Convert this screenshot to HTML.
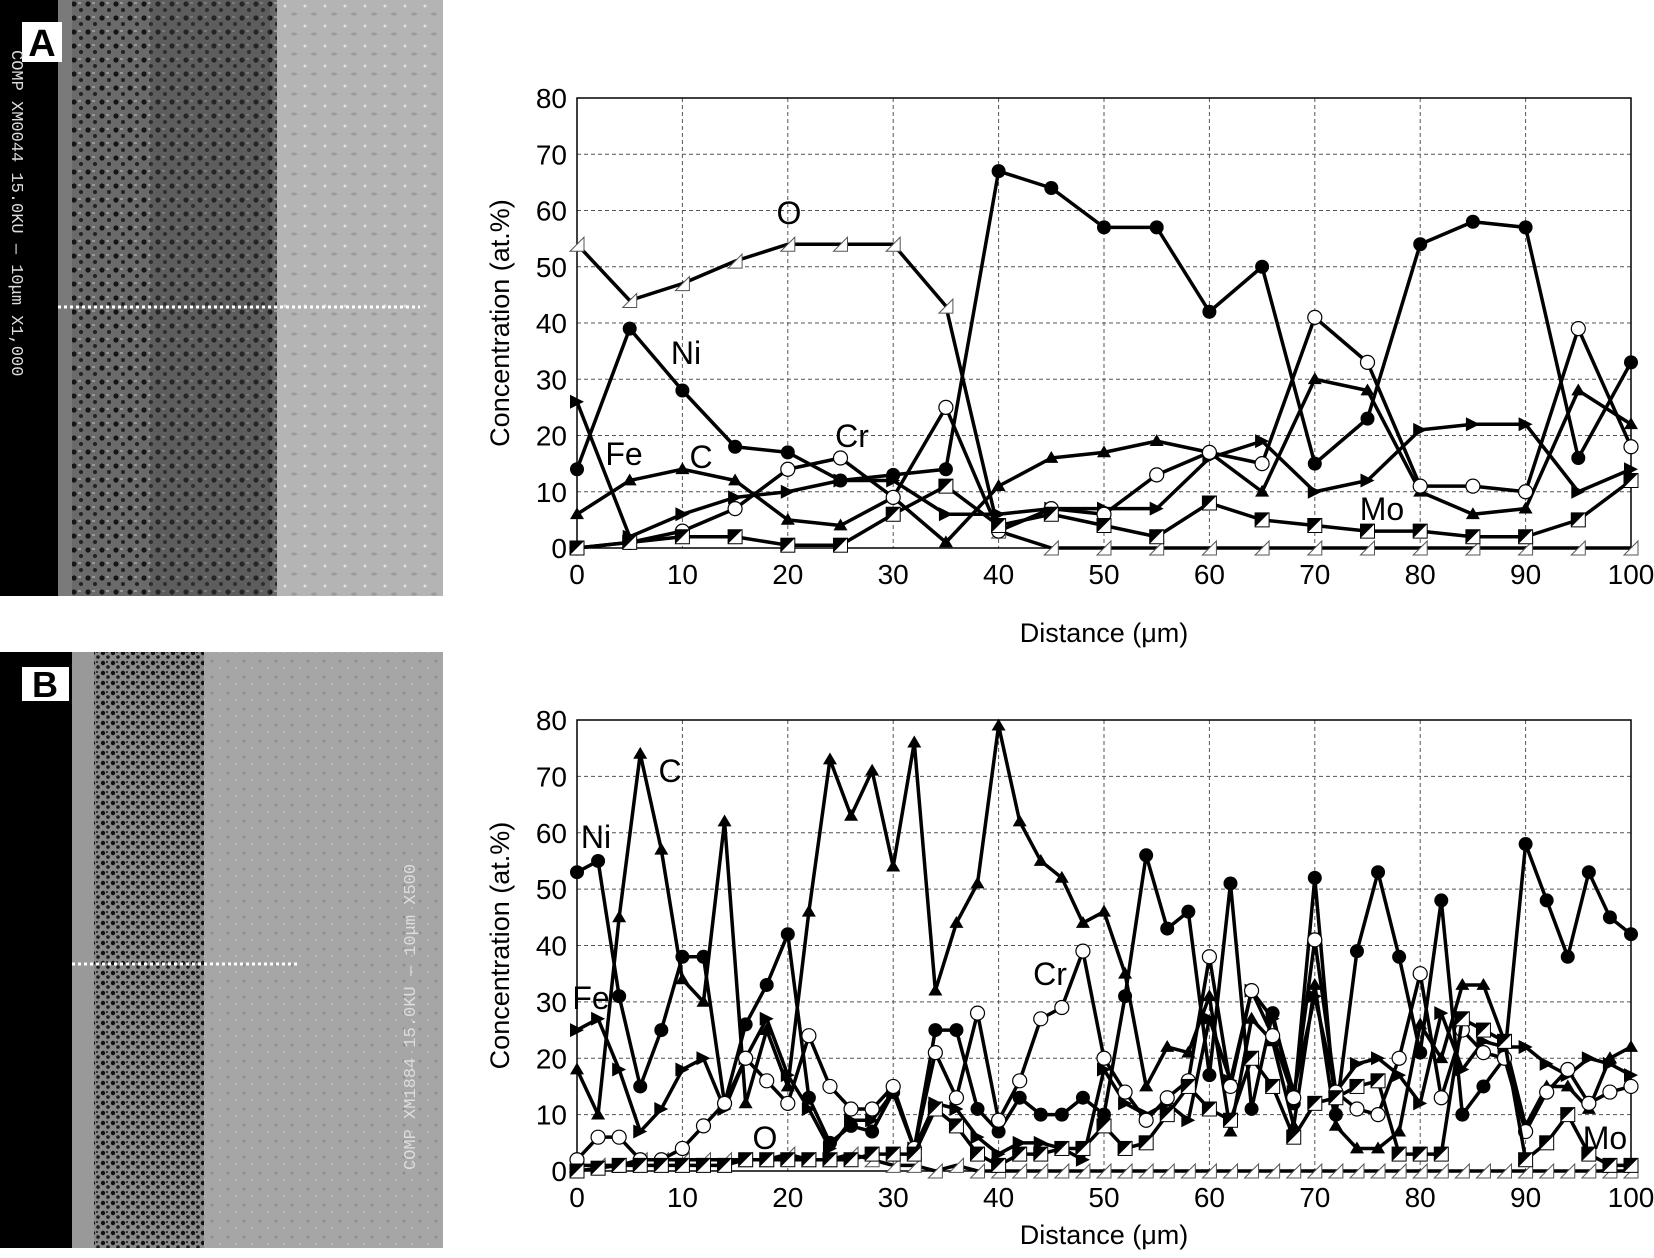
<!DOCTYPE html>
<html><head><meta charset="utf-8">
<style>
html,body{margin:0;padding:0;background:#fff;}
svg{display:block;font-family:"Liberation Sans",Arial,sans-serif;}
</style></head>
<body>
<svg id="s" width="1654" height="1258" viewBox="0 0 1654 1258" xmlns="http://www.w3.org/2000/svg">
<defs>
<pattern id="pA" width="14" height="14" patternUnits="userSpaceOnUse">
<rect width="14" height="14" fill="#6a6a6a"/><circle cx="4" cy="4" r="2.6" fill="#151515"/><circle cx="11" cy="10" r="2" fill="#222"/><rect x="8" y="2" width="3" height="2" fill="#999"/>
</pattern>
<pattern id="pB" width="10" height="10" patternUnits="userSpaceOnUse">
<rect width="10" height="10" fill="#8a8a8a"/><circle cx="3" cy="3" r="2.2" fill="#111"/><circle cx="8" cy="7" r="1.8" fill="#1a1a1a"/><rect x="6" y="1" width="2" height="2" fill="#333"/>
</pattern>
<pattern id="pL" width="20" height="20" patternUnits="userSpaceOnUse">
<rect width="20" height="20" fill="#b4b4b4"/><circle cx="5" cy="6" r="1.5" fill="#e0e0e0"/><ellipse cx="14" cy="14" rx="3" ry="1.5" fill="#9a9a9a"/>
</pattern>
<pattern id="pL2" width="16" height="16" patternUnits="userSpaceOnUse">
<rect width="16" height="16" fill="#a6a6a6"/><circle cx="4" cy="5" r="1.5" fill="#8e8e8e"/><circle cx="12" cy="12" r="1" fill="#c4c4c4"/>
</pattern>
</defs>
<!-- photo A -->
<rect x="0" y="0" width="443" height="596" fill="url(#pL)"/>
<rect x="0" y="0" width="58" height="596" fill="#000"/>
<rect x="58" y="0" width="14" height="596" fill="#7a7a7a"/>
<rect x="72" y="0" width="205" height="596" fill="url(#pA)"/>
<rect x="150" y="0" width="120" height="596" fill="#444" opacity="0.35"/>
<line x1="58" y1="307" x2="420" y2="307" stroke="#fff" stroke-width="3" stroke-dasharray="3,3"/>
<rect x="22" y="22" width="40" height="40" fill="#fff"/>
<text x="42" y="56" font-size="38" font-weight="bold" text-anchor="middle">A</text>
<text transform="translate(12,50) rotate(90)" font-family="Liberation Mono,monospace" font-size="17" fill="#ddd">COMP  XM0044 15.0KU  —  10μm X1,000</text>
<!-- photo B -->
<rect x="0" y="652" width="443" height="596" fill="url(#pL2)"/>
<rect x="0" y="652" width="72" height="596" fill="#000"/>
<rect x="72" y="652" width="22" height="596" fill="#999"/>
<rect x="94" y="652" width="110" height="596" fill="url(#pB)"/>
<line x1="72" y1="964" x2="300" y2="964" stroke="#fff" stroke-width="3" stroke-dasharray="3,3"/>
<rect x="22" y="667" width="47" height="34" fill="#fff"/>
<text x="45" y="697" font-size="36" font-weight="bold" text-anchor="middle">B</text>
<text transform="translate(415,1170) rotate(-90)" font-family="Liberation Mono,monospace" font-size="17" fill="#ddd">COMP XM1884 15.0KU   —  10μm X500</text>
<g id="plots"></g>
</svg>
<script>
var NS="http://www.w3.org/2000/svg",G=document.getElementById("plots");
function el(t,a,p){var e=document.createElementNS(NS,t);for(var k in a)e.setAttribute(k,a[k]);(p||G).appendChild(e);return e;}
function txt(x,y,s,sz,anc,tr){var e=el("text",{x:x,y:y,"font-size":sz,"text-anchor":anc||"middle"});if(tr)e.setAttribute("transform",tr);e.textContent=s;return e;}
function plot(X0,X1,Y80,Y0,series,labels,xstep,lblY){
 var sx=(X1-X0)/100,sy=(Y0-Y80)/80;
 function px(v){return X0+v*sx}function py(v){return Y0-v*sy}
 for(var i=1;i<10;i++)el("line",{x1:px(i*10),x2:px(i*10),y1:Y80,y2:Y0,stroke:"#555","stroke-width":1,"stroke-dasharray":"4,3"});
 for(var j=1;j<8;j++)el("line",{x1:X0,x2:X1,y1:py(j*10),y2:py(j*10),stroke:"#555","stroke-width":1,"stroke-dasharray":"4,3"});
 el("rect",{x:X0,y:Y80,width:X1-X0,height:Y0-Y80,fill:"none",stroke:"#000","stroke-width":1.5});
 for(var i=0;i<=10;i++)txt(px(i*10),Y0+36,String(i*10),28);
 for(var j=0;j<=8;j++)txt(X0-10,py(j*10)+10,String(j*10),28,"end");
 txt((X0+X1)/2,lblY,"Distance (μm)",27);
 txt(0,0,"Concentration (at.%)",27,"middle","translate("+(X0-68)+","+((Y80+Y0)/2)+") rotate(-90)");
 series.forEach(function(s){
  var pts=s.d.map(function(v,i){return [px(i*xstep),py(v)]});
  el("polyline",{points:pts.map(function(p){return p.join(",")}).join(" "),fill:"none",stroke:"#000","stroke-width":3.5,"stroke-linejoin":"round"});
  pts.forEach(function(p){mark(s.m,p[0],p[1]);});
 });
 labels.forEach(function(l){txt(l[1],l[2],l[0],32);});
}
function mark(m,x,y){
 var r=7;
 if(m=="o")el("circle",{cx:x,cy:y,r:r,fill:"#000"});
 else if(m=="c")el("circle",{cx:x,cy:y,r:r,fill:"#fff",stroke:"#000","stroke-width":1.2});
 else if(m=="t")el("polygon",{points:(x)+","+(y-r)+" "+(x+r)+","+(y+r*0.7)+" "+(x-r)+","+(y+r*0.7),fill:"#000"});
 else if(m=="f")el("polygon",{points:(x-r)+","+(y-r)+" "+(x+r)+","+(y)+" "+(x-r)+","+(y+r),fill:"#000"});
 else if(m=="q"){el("rect",{x:x-r,y:y-r,width:2*r,height:2*r,fill:"#fff",stroke:"#000","stroke-width":1});el("polygon",{points:(x-r)+","+(y-r)+" "+(x+r)+","+(y-r)+" "+(x-r)+","+(y+r),fill:"#000"});}
 else if(m=="w"){el("polygon",{points:(x+r)+","+(y-r)+" "+(x+r)+","+(y+r)+" "+(x-r)+","+(y+r),fill:"#fff",stroke:"#555","stroke-width":1});}
}
plot(577,1631,98,548,[
 {m:"w",d:[54,44,47,51,54,54,54,43,3,0,0,0,0,0,0,0,0,0,0,0,0]},
 {m:"o",d:[14,39,28,18,17,12,13,14,67,64,57,57,42,50,15,23,54,58,57,16,33]},
 {m:"t",d:[6,12,14,12,5,4,9,1,11,16,17,19,17,10,30,28,10,6,7,28,22]},
 {m:"f",d:[26,2,6,9,10,12,12,6,6,7,7,7,16,19,10,12,21,22,22,10,14]},
 {m:"c",d:[0,1,3,7,14,16,9,25,3,7,6,13,17,15,41,33,11,11,10,39,18]},
 {m:"q",d:[0,1,2,2,0.5,0.5,6,11,4,6,4,2,8,5,4,3,3,2,2,5,12]}
],[["O",789,224],["Ni",686,364],["Fe",624,465],["C",701,468],["Cr",852,447],["Mo",1382,520]],5,642);
plot(577,1631,720,1171,[
 {m:"w",d:[1,1,1,2,2,2,2,2,2,2,3,2,2,3,2,1,1,0,1,0,0,0,0,0,0,0,0,0,0,0,0,0,0,0,0,0,0,0,0,0,0,0,0,0,0,0,0,0,0,0,0]},
 {m:"o",d:[53,55,31,15,25,38,38,12,26,33,42,13,5,8,7,14,4,25,25,11,7,13,10,10,13,10,31,56,43,46,17,51,11,28,12,52,10,39,53,38,21,48,10,15,20,58,48,38,53,45,42]},
 {m:"t",d:[18,10,45,74,57,34,30,62,12,25,15,46,73,63,71,54,76,32,44,51,79,62,55,52,44,46,35,15,22,21,31,7,27,23,8,33,8,4,4,7,26,20,33,33,23,8,15,15,11,20,22]},
 {m:"f",d:[25,27,18,7,11,18,20,11,20,27,17,11,4,9,9,14,4,12,11,6,3,5,5,4,2,18,12,10,12,9,27,16,32,27,14,31,14,19,20,17,12,28,18,23,22,22,19,17,20,19,17]},
 {m:"c",d:[2,6,6,2,2,4,8,12,20,16,12,24,15,11,11,15,4,21,13,28,9,16,27,29,39,20,14,9,13,16,38,15,32,24,13,41,14,11,10,20,35,13,25,21,20,7,14,18,12,14,15]},
 {m:"q",d:[0,0.5,1,1,1,1,1,1,2,2,2,2,2,2,3,3,3,11,8,3,1,3,3,4,4,8,4,5,10,15,11,9,20,15,6,12,13,15,16,3,3,3,27,25,23,2,5,10,3,1,1]}
],[["C",670,782],["Ni",596,848],["Fe",591,1009],["Cr",1050,985],["O",765,1149],["Mo",1605,1149]],2,1244);
</script>
</body></html>
